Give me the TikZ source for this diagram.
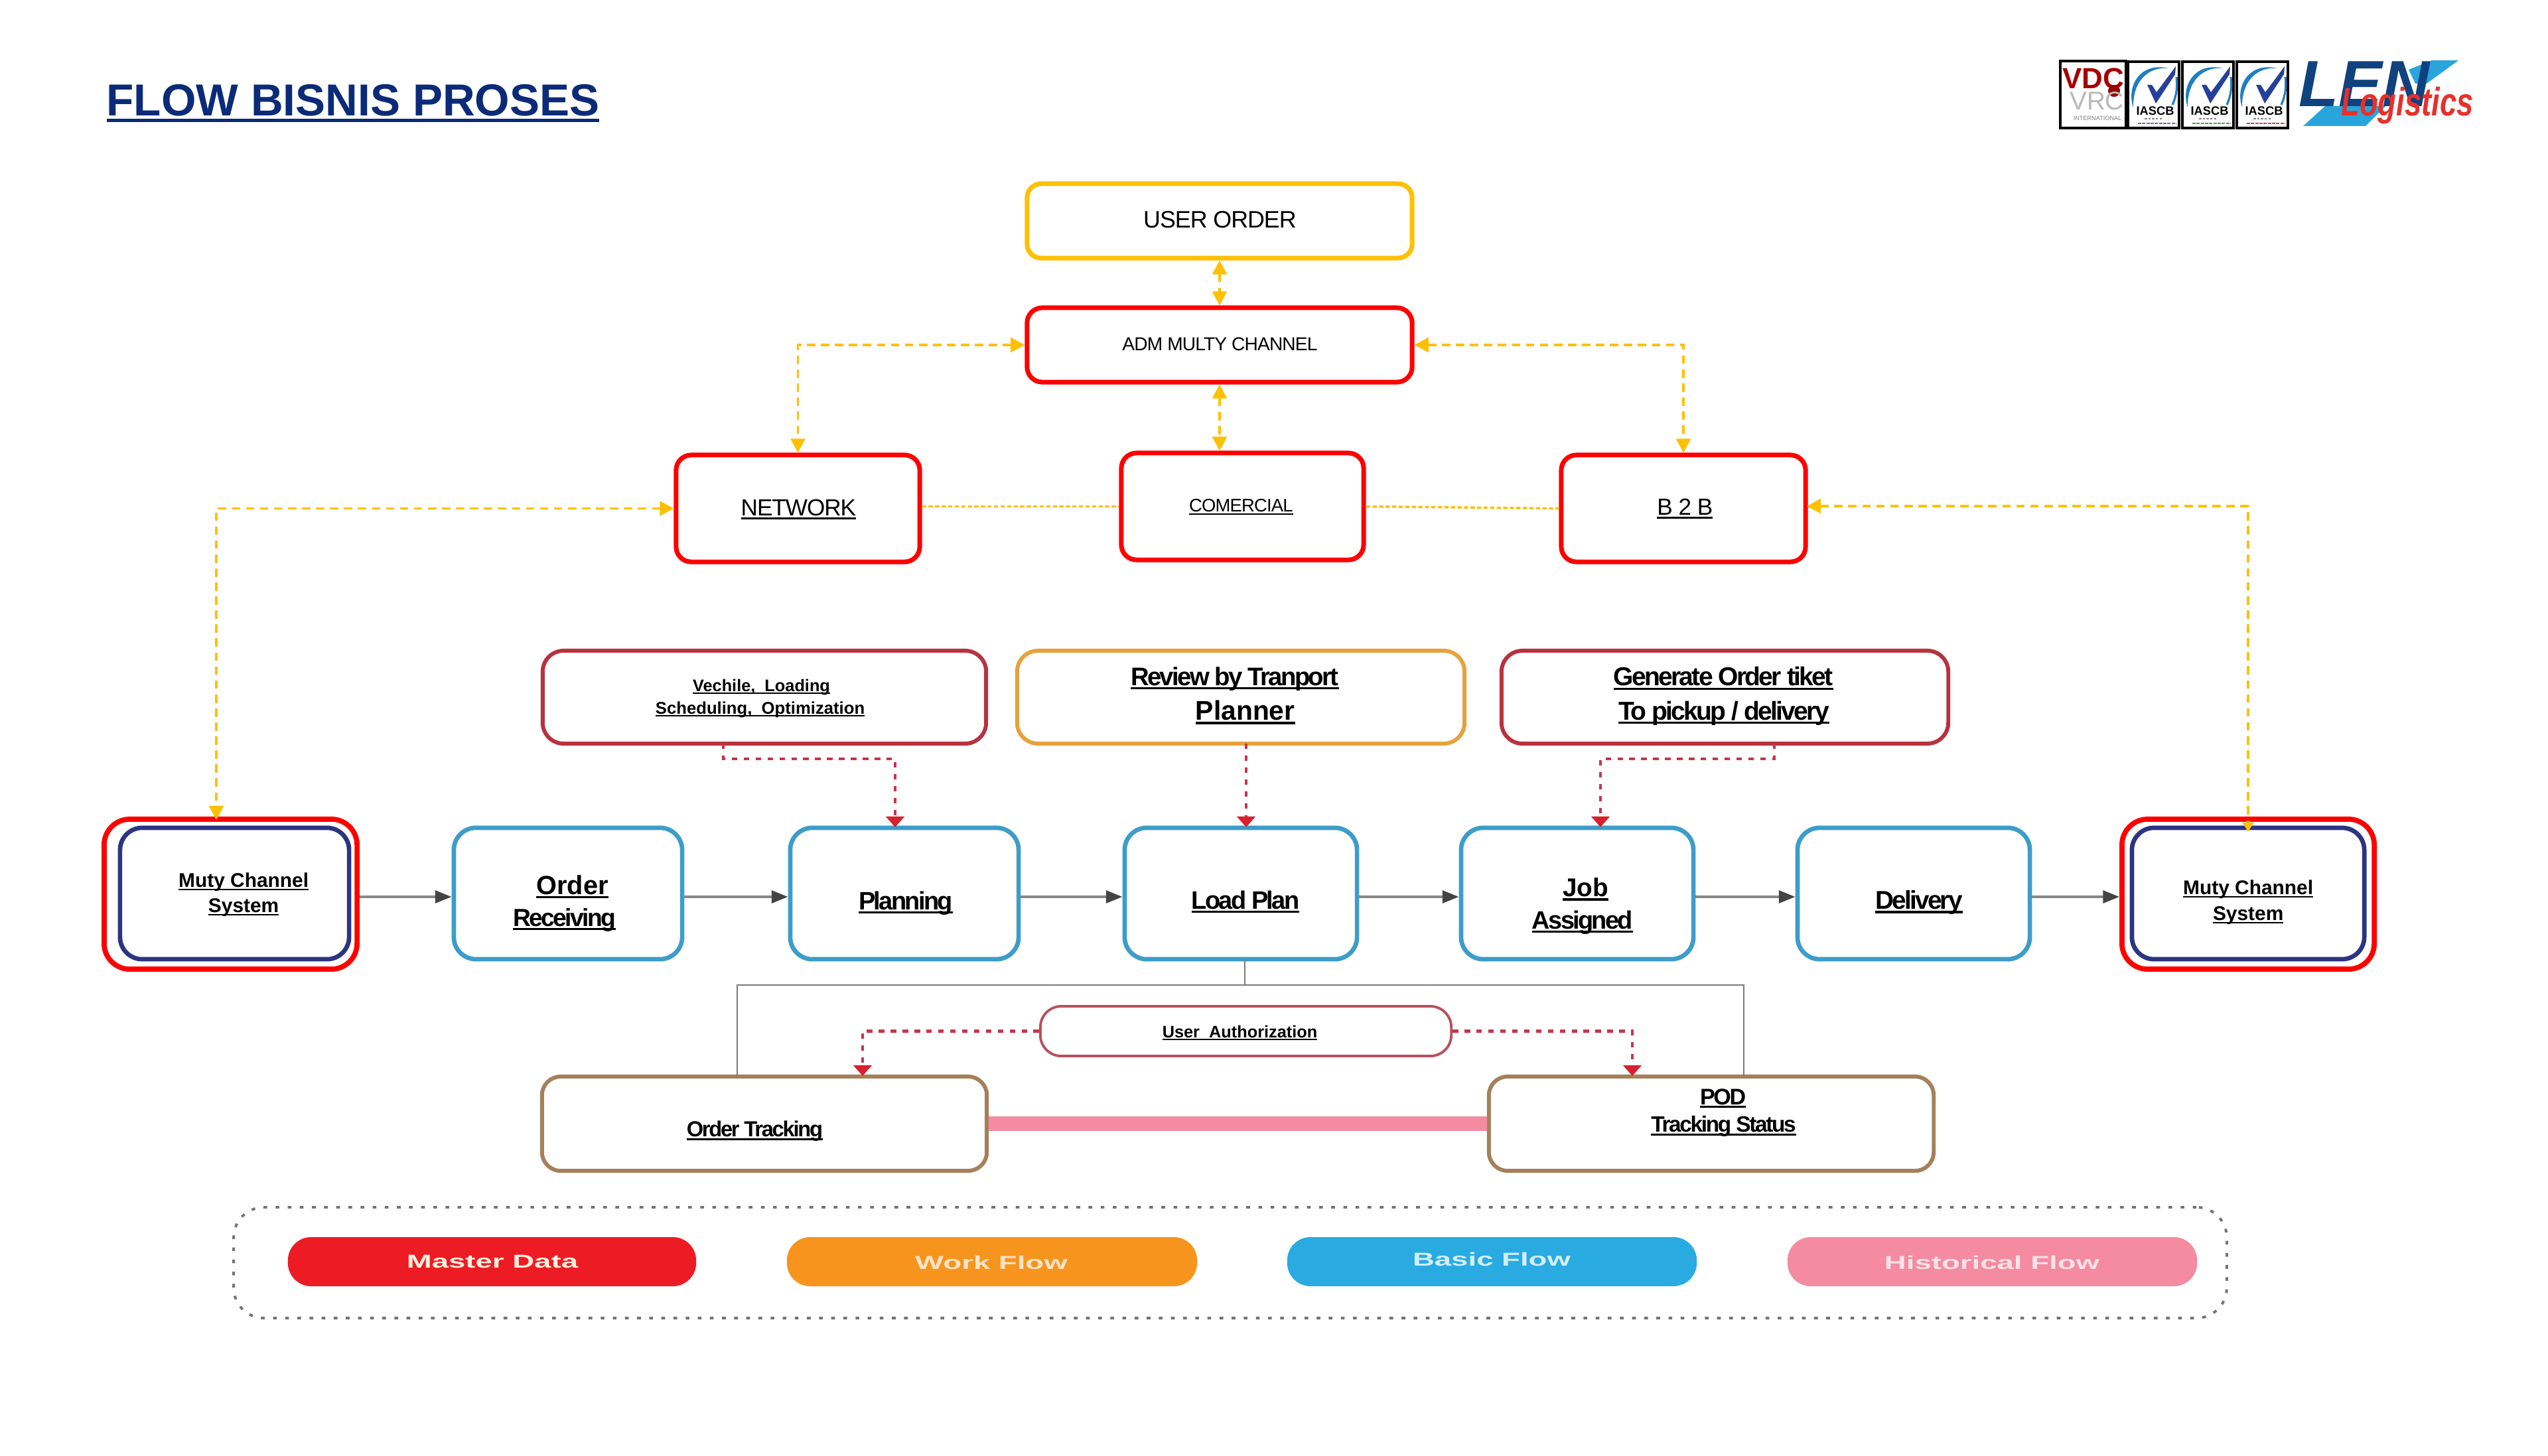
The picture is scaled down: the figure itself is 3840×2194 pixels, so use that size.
\documentclass[tikz,border=0pt]{standalone}
\usepackage{fontspec}
\usepackage{graphicx}
\usetikzlibrary{arrows.meta,calc}
\setmainfont{Liberation Sans}
\newfontfamily\tf[LetterSpace=-7]{Liberation Sans}
\newfontfamily\nf[LetterSpace=-3]{Liberation Sans}
\definecolor{yel}{HTML}{FFC000}
\definecolor{rd}{HTML}{FF0000}
\definecolor{flowblue}{HTML}{3D9DC8}
\definecolor{navybox}{HTML}{2C3580}
\definecolor{brownbox}{HTML}{A5805A}
\definecolor{darkred}{HTML}{B8323F}
\definecolor{orgbox}{HTML}{E6A23C}
\definecolor{uared}{HTML}{B8505F}
\definecolor{dotred}{HTML}{C8354A}
\definecolor{headred}{HTML}{D8202F}
\definecolor{gline}{HTML}{888888}
\definecolor{ghead}{HTML}{444444}
\definecolor{titleblue}{HTML}{0B2A78}
\definecolor{lgred}{HTML}{ED1C24}
\definecolor{lgorg}{HTML}{F7941D}
\definecolor{lgblue}{HTML}{29ABE2}
\definecolor{lgpink}{HTML}{F48BA0}
\definecolor{lenblue}{HTML}{10427F}
\definecolor{lensky}{HTML}{29A5DC}
\definecolor{lenred}{HTML}{E8302A}
\definecolor{iasblue}{HTML}{1F7FC0}
\definecolor{iasnavy}{HTML}{26409A}
\newcommand\ulx[1]{\setbox0=\hbox{#1}\rlap{\rule[-0.15em]{\wd0}{0.085em}}\box0}
% name, x, y (centre of caps), size, font, text
\newcommand\lbl[6]{\node[inner sep=0pt,anchor=base,name=#1] at (#2,{#3+1.26*#4-2}) {\fontsize{#4pt}{#4pt}\selectfont #5 #6};}
% name, style, x1, y1, x2, y2
\newcommand\bx[6]{\node[#2,inner sep=0pt,minimum width={(#5-#3)*0.28453pt},minimum height={(#6-#4)*0.28453pt},name=#1] at ({(#3+#5)/2},{(#4+#6)/2}) {};}
\tikzset{
  boxbase/.style={draw,rounded corners=#1},
  redb/.style={boxbase=6.5pt,draw=rd,line width=2pt},
  yelb/.style={boxbase=6pt,draw=yel,line width=2pt},
  blueb/.style={boxbase=9.5pt,draw=flowblue,line width=1.9pt},
  outerb/.style={boxbase=11pt,draw=rd,line width=2.2pt},
  navyb/.style={boxbase=9.5pt,draw=navybox,line width=1.9pt},
  topr/.style={boxbase=9pt,draw=darkred,line width=1.7pt},
  topo/.style={boxbase=9pt,draw=orgbox,line width=1.7pt},
  uab/.style={boxbase=9pt,draw=uared,line width=1.1pt},
  brownb/.style={boxbase=8pt,draw=brownbox,line width=1.7pt},
  legendb/.style={boxbase=13pt,draw=gray!90!black,line width=1.1pt,dash pattern=on 1.6pt off 3.6pt},
  pillr/.style={boxbase=10pt,fill=#1,draw=none},
  yy/.style={draw=yel,line width=1pt,dash pattern=on 3.6pt off 2.4pt},
  yarrow/.style={yy,{Triangle[length=6pt,width=6.2pt]}-{Triangle[length=6pt,width=6.2pt]}},
  yfine/.style={draw=yel,line width=1pt,dash pattern=on 1.8pt off 1pt},
  dotr/.style={draw=dotred,line width=1.2pt,dash pattern=on 2.4pt off 2.7pt,-{Triangle[length=4.6pt,width=7.8pt,color=headred]}},
  flow/.style={draw=gline,line width=1.1pt,-{Triangle[length=7pt,width=5.3pt,color=ghead]}},
  tree/.style={draw=gline!90!black,line width=.8pt},
  pinkbar/.style={draw=lgpink,line width=6.5pt},
  lgbx/.style={draw=black,line width=.9pt},
}
\begin{document}
\begin{tikzpicture}[x=0.01cm,y=-0.01cm]
\useasboundingbox (0,0) rectangle (3840,2194);
\fill[white] (0,0) rectangle (3840,2194);

% title
\node[inner sep=0pt,anchor=base west,name=title] at (160,{150+1.26*19.2}) {\fontsize{19.2pt}{20pt}\selectfont\color{titleblue}\bfseries\ulx{FLOW BISNIS PROSES}};

% top boxes
\bx{uo}{yelb}{1548}{277}{2128}{389}
\bx{adm}{redb}{1548}{464}{2128}{576}
\bx{net}{redb}{1019}{686}{1386}{847}
\bx{com}{redb}{1690}{683}{2055}{844}
\bx{btb}{redb}{2353}{686}{2721}{847}
\lbl{tuo}{1834}{333}{10.2}{\nf}{USER ORDER}
\lbl{tadm}{1835}{520}{8}{\nf}{ADM\ MULTY\ CHANNEL}
\lbl{tnet}{1199}{767}{10}{\nf}{\ulx{NETWORK}}
\lbl{tcom}{1867}{764}{7.8}{\nf}{\ulx{COMERCIAL}}
\lbl{tbtb}{2535}{766}{10}{\nf}{\ulx{B 2 B}}

% process boxes
\bx{mlo}{outerb}{157}{1235}{538}{1461}
\bx{mli}{navyb}{181}{1248}{526}{1446}
\bx{ord}{blueb}{684}{1248}{1028}{1446}
\bx{pla}{blueb}{1191}{1248}{1535}{1446}
\bx{lop}{blueb}{1695}{1248}{2045}{1446}
\bx{job}{blueb}{2202}{1248}{2552}{1446}
\bx{del}{blueb}{2709}{1248}{3059}{1446}
\bx{mro}{outerb}{3198}{1235}{3578}{1461}
\bx{mri}{navyb}{3213}{1248}{3563}{1446}
\lbl{tml1}{363}{1329}{8.5}{\bfseries}{\ulx{Muty Channel}}
\lbl{tml2}{363}{1367}{8.5}{\bfseries}{\ulx{System}}
\lbl{tord1}{857}{1336}{11.3}{\bfseries}{\ulx{Order}}
\lbl{tord2}{847}{1385}{10.6}{\tf\bfseries}{\ulx{Receiving}}
\lbl{tpla}{1361}{1360}{10.8}{\tf\bfseries}{\ulx{Planning}}
\lbl{tlop}{1873}{1359}{10.8}{\tf\bfseries}{\ulx{Load Plan}}
\lbl{tjob1}{2384}{1340}{11}{\bfseries}{\ulx{Job}}
\lbl{tjob2}{2381}{1389}{10.8}{\tf\bfseries}{\ulx{Assigned}}
\lbl{tdel}{2888}{1359}{11}{\tf\bfseries}{\ulx{Delivery}}
\lbl{tmr1}{3384}{1340}{8.5}{\bfseries}{\ulx{Muty Channel}}
\lbl{tmr2}{3384}{1379}{8.5}{\bfseries}{\ulx{System}}

% upper task boxes
\bx{veh}{topr}{818}{981}{1486}{1121}
\bx{rev}{topo}{1533}{981}{2207}{1121}
\bx{gen}{topr}{2263}{981}{2936}{1121}
\lbl{tveh1}{1144}{1035}{7.2}{\bfseries}{\ulx{Vechile,\ \ Loading}}
\lbl{tveh2}{1142}{1069}{7.3}{\bfseries}{\ulx{Scheduling,\ \ Optimization}}
\lbl{trev1}{1857}{1022}{10.9}{\tf\bfseries}{\ulx{Review by Tranport}}
\lbl{trev2}{1871}{1073}{11.6}{\bfseries}{\ulx{Planner}}
\lbl{tgen1}{2593}{1022}{11.1}{\tf\bfseries}{\ulx{Generate Order tiket}}
\lbl{tgen2}{2594}{1073}{11.1}{\tf\bfseries}{\ulx{To pickup / delivery}}

% tracking boxes
\bx{ua}{uab}{1568}{1517}{2187}{1592}
\bx{ot}{brownb}{817}{1623}{1487}{1765}
\bx{pod}{brownb}{2244}{1623}{2914}{1765}
\lbl{tua}{1865}{1557}{7.2}{\bfseries}{\ulx{User\ \ Authorization}}
\lbl{tot}{1134}{1704}{9.3}{\tf\bfseries}{\ulx{Order Tracking}}
\lbl{tpod1}{2593}{1655}{9.7}{\tf\bfseries}{\ulx{POD}}
\lbl{tpod2}{2594}{1697}{9.5}{\tf\bfseries}{\ulx{Tracking Status}}
\draw[pinkbar] (ot.east) -- (pod.west);

% named free ends
\coordinate (fy) at (0,1352);
\coordinate (muLt) at (326,1236);
\coordinate (muRt) at (3388,1254);
\coordinate (btbin) at (2723,763);
\coordinate (vehs) at (1090,1121);
\coordinate (plin) at (1349,1247);
\coordinate (vehy) at (0,1144);
\coordinate (revs) at (1878,1121);
\coordinate (lpin) at (1878,1247);
\coordinate (gens) at (2674,1121);
\coordinate (jbin) at (2412,1247);
\coordinate (lps) at (1876,1446);
\coordinate (lpj) at (1876,1485);
\coordinate (otj) at (1111,1623);
\coordinate (potj) at (2628,1623);
\coordinate (otin) at (1300,1622);
\coordinate (podin) at (2460,1622);

% yellow connectors
\draw[yarrow] (uo.south) -- (adm.north);
\draw[yarrow] (adm.south) -- (adm.south |- com.north);
\draw[yarrow] (adm.west) -| (net.north);
\draw[yarrow] (adm.east) -| (btb.north);
\draw[yarrow] (net.west) -| (muLt);
\draw[yarrow,{Triangle[length=6pt,width=6.2pt]}-{Triangle[length=4pt,width=4.6pt]}] (btbin) -| (muRt);
\draw[yfine] (net.east |- com.west) -- (com.west);
\draw[yfine] (com.east) -- (btb.west);

% flow arrows
\draw[flow] (mlo.east |- fy) -- (ord.west |- fy);
\draw[flow] (ord.east |- fy) -- (pla.west |- fy);
\draw[flow] (pla.east |- fy) -- (lop.west |- fy);
\draw[flow] (lop.east |- fy) -- (job.west |- fy);
\draw[flow] (job.east |- fy) -- (del.west |- fy);
\draw[flow] (del.east |- fy) -- (mro.west |- fy);

% dotted connectors
\draw[dotr] (vehs) -- (vehs |- vehy) -| (plin);
\draw[dotr] (revs) -- (lpin);
\draw[dotr] (gens) -- (gens |- vehy) -| (jbin);
\draw[dotr] (ua.west) -| (otin);
\draw[dotr] (ua.east) -| (podin);

% tree
\draw[tree] (lps) -- (lpj);
\draw[tree] (otj) -- (otj |- lpj) -- (potj |- lpj) -- (potj);

% legend
\bx{lgd}{legendb}{353}{1820}{3355}{1987}
\bx{lg1}{pillr=lgred}{434}{1865}{1049}{1939}
\bx{lg2}{pillr=lgorg}{1186}{1865}{1804}{1939}
\bx{lg3}{pillr=lgblue}{1940}{1865}{2557}{1939}
\bx{lg4}{pillr=lgpink}{2694}{1865}{3311}{1939}
\lbl{tlg1}{742}{1903}{8}{\bfseries\color{lgorg!15!white}}{\scalebox{1.62}[1]{Master Data}}
\lbl{tlg2}{1494}{1905}{8}{\bfseries\color{lgorg!25!white}}{\scalebox{1.62}[1]{Work Flow}}
\lbl{tlg3}{2248}{1900}{8}{\bfseries\color{lgblue!20!white}}{\scalebox{1.62}[1]{Basic Flow}}
\lbl{tlg4}{3002}{1905}{8}{\bfseries\color{lgpink!25!white}}{\scalebox{1.62}[1]{Historical Flow}}

% certificate logos
\bx{vrcb}{lgbx}{3105}{92}{3204}{193}
\lbl{tvrc1}{3155}{120}{12.5}{\bfseries\color{red!65!black}}{VDC}
\fill[red!60!black] (3186,137) circle (9);
\lbl{tvrc2}{3160}{154}{11}{\color{gray!55}}{VRC}
\lbl{tvrc3}{3161}{180}{2.6}{\color{gray}}{INTERNATIONAL}
\foreach \d/\n/\c in {0/a/navybox,82/b/green!50!black,164/c/red!70!black}{
  \begin{scope}[shift={(\d,0)}]
    \bx{ias\n}{lgbx}{3207}{93}{3284}{193}
    \fill[iasblue] (3215,162) .. controls (3204,130) and (3225,93) .. (3268,103)
       .. controls (3240,100) and (3214,120) .. (3215,162) -- cycle;
    \draw[iasblue,line width=.9pt] (3280,116) .. controls (3282,130) and (3280,145) .. (3274,158);
    \fill[iasnavy] (3236,128) -- (3249,156) -- (3278,112) -- (3279,100) -- (3250,139) -- (3243,128) -- cycle;
    \lbl{tias\n}{3245.5}{169}{5.2}{\bfseries}{IASCB}
    \draw[gray,line width=.5pt,dash pattern=on 1pt off .6pt] (3232,179) -- (3259,179);
    \draw[\c!70,line width=.6pt,dash pattern=on 1.4pt off .4pt] (3222,186) -- (3279,186);
  \end{scope}
}

% LEN logo
\fill[lensky] (3471,190) -- (3504,160) -- (3595,160) -- (3565,190) -- cycle;
\fill[lensky] (3665,91) -- (3705,91) -- (3657,126) -- (3640,126) -- (3630,105) -- cycle;
\lbl{tlen}{3563}{127}{28}{\bfseries\itshape\color{lenblue}}{LEN}
\begin{scope}[xscale=.76,transform shape]
  \node[inner sep=0pt,anchor=base,name=tlog] at ({3628/.76},175) {\fontsize{17pt}{17pt}\selectfont\bfseries\itshape\color{lenred}Logistics};
\end{scope}
\end{tikzpicture}
\end{document}
